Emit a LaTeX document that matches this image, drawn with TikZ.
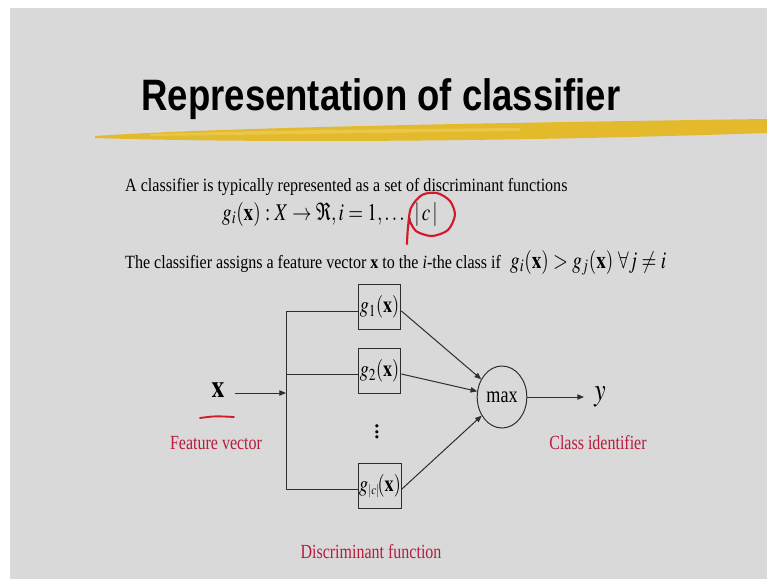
\documentclass[tikz,border=0pt]{standalone}
\usepackage{mathptmx}
\usepackage[no-math]{fontspec}
\setmainfont{Liberation Serif}
\newfontfamily\titlefont{Liberation Sans}
\usetikzlibrary{arrows.meta,positioning,calc,shapes.geometric}
\definecolor{slidegray}{HTML}{D9D9D9}
\definecolor{penred}{HTML}{D2192B}
\definecolor{notered}{HTML}{B81B3C}
\definecolor{hiyellow}{HTML}{E3BA2C}
\definecolor{hilight}{HTML}{F0D468}
\definecolor{lineink}{HTML}{2E2E2E}

\begin{document}
\begin{tikzpicture}[x=0.75pt,y=-0.75pt,
  heading/.style={anchor=base,inner sep=0pt,xscale=0.83,
                  font=\titlefont\bfseries\fontsize{33}{36}\selectfont},
  body/.style={anchor=base west,inner sep=0pt,xscale=0.86,
               font=\fontsize{14}{16}\selectfont},
  formula/.style={anchor=base west,inner sep=0pt,xscale=0.8,
                  font=\fontsize{18}{20}\selectfont},
  fbox/.style={draw=lineink,line width=0.75pt,inner sep=0pt,xscale=0.8,
               minimum width=40.3pt,minimum height=34pt,
               font=\fontsize{17}{18}\selectfont},
  maxnode/.style={circle,draw=lineink,line width=0.75pt,inner sep=0pt,
                  xscale=0.8,minimum size=46.5pt,font=\fontsize{17}{18}\selectfont},
  note/.style={text=notered,inner sep=0pt,xscale=0.8,font=\fontsize{15}{17}\selectfont},
  big/.style={inner sep=0pt,xscale=0.8,font=\fontsize{24}{26}\selectfont},
  wire/.style={line width=0.75pt,draw=lineink},
  arr/.style={-{Triangle[length=5pt,width=4pt]},line width=0.75pt,draw=lineink},
  pen/.style={draw=penred,line width=1.6pt,line cap=round,line join=round}
]
\useasboundingbox (0,0) rectangle (767,579);
\fill[white] (0,0) rectangle (767,579);
\fill[slidegray] (10,8) rectangle (767,579);
\fill[hiyellow] (95,136) .. controls (200,129) and (400,124) .. (767,119)
  -- (767,133) .. controls (500,142) and (250,143) .. (95,138) -- cycle;
\fill[hilight,opacity=0.5] (150,134) .. controls (300,130) .. (520,128)
  -- (520,131) .. controls (300,134) .. (150,136) -- cycle;
\node[heading] (title) at (381,110) {Representation of classifier};
\node[body] (l1) at (125,191) {A classifier is typically represented as a set of discriminant functions};
\node[formula] (l2) at (222,220) {$g_i(\mathbf{x}):X\rightarrow\Re,i=1,\ldots,|\,c\,|$};
\begin{scope}[shift={(l2.base east)}]
\draw[pen] plot[smooth] coordinates {(-31,24) (-30,8) (-27,-12) (-16,-25) (-1,-27)
  (12,-19) (17,-5) (10,10) (-6,16) (-22,11) (-29,-1)};
\end{scope}
\node[body] (l3) at (125,268) {The classifier assigns a feature vector \textbf{x} to the \textit{i}-the class if};
\node[formula] (l3m) at (510,268) {$g_i(\mathbf{x})>g_j(\mathbf{x})\ \forall j\neq i$};
\node[big] (xin) at (218,390) {$\mathbf{x}$};
\draw[pen,line width=1.4pt] (200,418) .. controls (215,416) .. (234,417);
\node[note] (fv) at (216,443) {Feature vector};
\node[fbox] (g1) at (379.5,307) {$g_1(\mathbf{x})$};
\node[fbox] (g2) at (379.5,371) {$g_2(\mathbf{x})$};
\node[fbox] (gc) at (380,486) {$g_{\scriptscriptstyle|c|}\!(\mathbf{x})$};
\node[inner sep=0pt,font=\fontsize{20}{22}\selectfont] (dots) at (377,428) {$\vdots$};
\node[maxnode] (max) at (502,397) {max};
\node[big] (yout) at (600,397) {$y$};
\node[note] (ci) at (598,443) {Class identifier};
\node[note] (df) at (371,552) {Discriminant function};
\coordinate (bus) at (286,393);
\coordinate (g1in) at ([yshift=-3pt]g1.west);
\coordinate (g2in) at ([yshift=-2.25pt]g2.west);
\coordinate (gcin) at ([yshift=-2.25pt]gc.west);
\draw[wire] (g1in) -| (bus |- gcin) -- (gcin);
\draw[wire] (bus |- g2in) -- (g2in);
\draw[arr,shorten <=8pt] (xin.east |- bus) -- (bus);
\draw[arr] ([yshift=-3pt]g1.east) -- (max);
\draw[arr] ([yshift=-2.25pt]g2.east) -- (max);
\draw[arr] ([yshift=-2.25pt]gc.east) -- (max);
\draw[arr,shorten >=12pt] (max) -- (max -| yout);
\end{tikzpicture}
\end{document}
